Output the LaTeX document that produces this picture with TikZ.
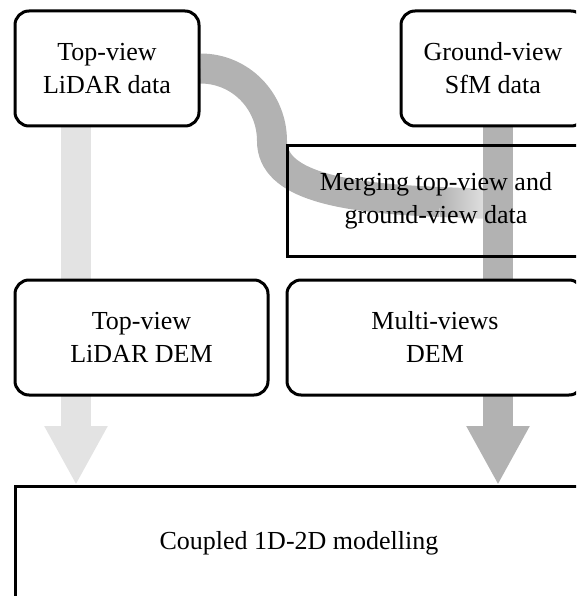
\documentclass[tikz,border=0pt]{standalone}
\usepackage{fontspec}
\setmainfont{Liberation Serif}
\usetikzlibrary{arrows.meta,backgrounds}

\tikzset{
  box/.style={draw=black, line width=3, fill=white, rounded corners=14, align=center, inner sep=0, font=\fontsize{26}{33}\selectfont},
  sqbox/.style={box, rounded corners=0},
  lightarrow/.style={gray!22, line width=30, -{Triangle[width=59pt,length=59pt]}},
  darkarrow/.style={gray!60, line width=30, -{Triangle[width=59pt,length=59pt]}},
  band/.style={gray!60, line width=30},
}

\begin{document}
\begin{tikzpicture}[x=1pt,y=-1pt]
  \useasboundingbox (0,0) rectangle (576,596);
  \clip (0,0) rectangle (576,596);
  % data sources
  \node[box, minimum width=184, minimum height=115] (tvdata) at (107,68.5) {Top-view\\LiDAR data};
  \node[box, minimum width=184, minimum height=115] (gvdata) at (493,68.5) {Ground-view\\SfM data};
  % merging step
  \node[sqbox, fill=none, minimum width=297, minimum height=111] (merge) at (436,201) {Merging top-view and\\ground-view data};
  % DEMs
  \node[box, minimum width=253, minimum height=115] (tvdem) at (141.5,337.5) {Top-view\\LiDAR DEM};
  \node[box, minimum width=296, minimum height=115] (mvdem) at (435,337.5) {Multi-views\\DEM};
  \node[sqbox, minimum width=568, minimum height=113] (coupled) at (299,543) {Coupled 1D-2D modelling};

  \coordinate (bend) at (272,141);
  \coordinate (fadestart) at (440,202);
  \begin{scope}[on background layer]
    \draw[lightarrow] ([xshift=-31]tvdata.center) -- ([xshift=-31]tvdata.center |- coupled.north);
    \draw[band] (tvdata.east) .. controls +(40,0) and +(0,-40) .. (bend)
                .. controls +(0,44) and +(-100,-4) .. (fadestart);
    \shade[left color=gray!60, right color=white] (fadestart) ++(0,-15) -- ++(75,3) -- ++(0,30) -- ++(-75,-3) -- cycle;
    \draw[darkarrow] ([xshift=5]gvdata.center) -- ([xshift=5]gvdata.center |- coupled.north);
  \end{scope}
\end{tikzpicture}
\end{document}
